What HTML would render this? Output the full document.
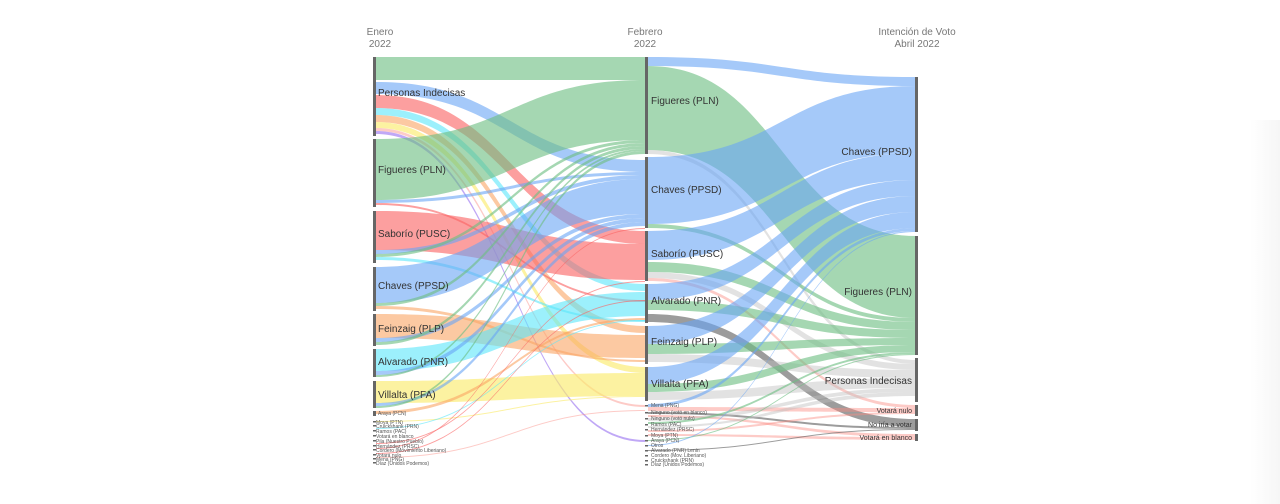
<!DOCTYPE html>
<html><head><meta charset="utf-8"><style>
html,body{margin:0;padding:0;background:#fff;width:1280px;height:504px;overflow:hidden}
svg{display:block;font-family:"Liberation Sans",sans-serif}
</style></head><body>
<svg id="s" width="1280" height="504" xmlns="http://www.w3.org/2000/svg">
<defs><linearGradient id="rg" x1="0" x2="1"><stop offset="0" stop-color="#fff"/><stop offset="1" stop-color="#f6f6f6"/></linearGradient></defs>
<rect x="1250" y="120" width="30" height="384" fill="url(#rg)"/>
<g id="links"></g>
<g id="nodes" fill="#666"></g>
<g font-size="10" fill="#777" text-anchor="middle">
<text x="380" y="35">Enero</text><text x="380" y="47">2022</text>
<text x="645" y="35">Febrero</text><text x="645" y="47">2022</text>
<text x="917" y="35">Intención de Voto</text><text x="917" y="47">Abril 2022</text>
</g>
<g font-size="10" fill="#333">
<text x="378" y="96">Personas Indecisas</text>
<text x="378" y="173">Figueres (PLN)</text>
<text x="378" y="237">Saborío (PUSC)</text>
<text x="378" y="289">Chaves (PPSD)</text>
<text x="378" y="332">Feinzaig (PLP)</text>
<text x="378" y="365">Alvarado (PNR)</text>
<text x="378" y="398">Villalta (PFA)</text>
<text x="651" y="104">Figueres (PLN)</text>
<text x="651" y="193">Chaves (PPSD)</text>
<text x="651" y="257">Saborío (PUSC)</text>
<text x="651" y="304">Alvarado (PNR)</text>
<text x="651" y="345">Feinzaig (PLP)</text>
<text x="651" y="387">Villalta (PFA)</text>
<g text-anchor="end">
<text x="912" y="155">Chaves (PPSD)</text>
<text x="912" y="295">Figueres (PLN)</text>
<text x="912" y="384">Personas Indecisas</text>
</g>
<g text-anchor="end" font-size="7">
<text x="912" y="413">Votará nulo</text>
<text x="912" y="427">No iría a votar</text>
<text x="912" y="440">Votará en blanco</text>
</g>
<g font-size="5" fill="#555">
<text x="378" y="415">Araya (PCN)</text>
<text x="376" y="424">Moya (PTN)</text><text x="376" y="428">Cruickshank (PRN)</text><text x="376" y="433">Ramos (PAC)</text><text x="376" y="438">Votará en blanco</text><text x="376" y="443">Pila (Nuestro Pueblo)</text><text x="376" y="448">Hernández (PRSC)</text><text x="376" y="452">Cordero (Movimiento Liberiano)</text><text x="376" y="457">Votará nulo</text><text x="376" y="461">Mena (PNG)</text><text x="376" y="465">Díaz (Unidos Podemos)</text>
<text x="651" y="407">Mena (PNG)</text><text x="651" y="414">Ninguno (votó en blanco)</text><text x="651" y="420">Ninguno (votó nulo)</text><text x="651" y="426">Ramos (PAC)</text><text x="651" y="431">Hernández (PRSC)</text><text x="651" y="437">Moya (PTN)</text><text x="651" y="442">Araya (PCN)</text><text x="651" y="447">Otros</text><text x="651" y="452">Alvarado (PNR) Lenin</text><text x="651" y="457">Cordero (Mov. Liberiano)</text><text x="651" y="462">Cruickshank (PRN)</text><text x="651" y="466">Díaz (Unidos Podemos)</text>
</g>
</g>
</svg>
<script>
var G='rgba(110,190,130,0.62)',B='rgba(105,165,245,0.6)',R='rgba(250,100,100,0.62)',C='rgba(90,230,250,0.6)',O='rgba(250,165,100,0.6)',Y='rgba(250,235,110,0.65)',GR='rgba(190,190,190,0.45)',DG='rgba(90,90,90,0.6)',P='rgba(250,140,130,0.45)',PU='rgba(150,110,240,0.6)';
var L=[
[376,57,80,645,57,80,G],[376,82,94,645,160,172,B],[376,95,108,645,231,244,R],[376,108,115,645,284,291,C],[376,115,122,645,326,333,O],[376,122,128,645,367,373,Y],[376,128,131,645,405,407,P],[376,131,134,645,440,442,PU],
[376,139,200,645,80,140,G],[376,200,203,645,172,175,B],[376,203,205,645,300,302,R],
[376,211,250,645,244,280,R],[376,250,254,645,175,179,B],[376,254,257,645,140,143,G],[376,257,260,645,320,322,C],
[376,267,303,645,179,214,B],[376,303,306,645,143,146,G],[376,306,309,645,360,362,O],
[376,314,338,645,335,358,O],[376,338,342,645,214,218,B],[376,342,345,645,146,149,G],
[376,349,371,645,292,316,C],[376,371,375,645,218,222,B],[376,375,377,645,149,151,G],
[376,381,403,645,373,396,Y],[376,403,406,645,222,226,B],[376,406,408,645,151,154,G],
[376,411,414,645,318,320,O],[376,421,422,645,396,397,Y],[376,428,429,645,320,321,C],[376,443,444,645,281,282,R],[376,448,449,645,228,229,R],[376,453,454,645,300,301,R],[376,457,458,645,410,411,P],
[648,57,66,916,77,86,B],[648,66,150,916,236,318,G],[648,150,154,916,360,364,GR],
[648,157,224,916,86,153,B],[648,224,228,916,318,322,G],
[648,231,260,916,153,180,B],[648,262,272,916,322,330,G],[648,272,278,916,364,370,GR],[648,278,281,916,405,408,P],
[648,284,300,916,180,196,B],[648,300,310,916,330,338,G],[648,314,322,916,419,427,DG],
[648,326,344,916,196,212,B],[648,344,354,916,338,345,G],[648,354,362,916,370,378,GR],
[648,367,384,916,212,228,B],[648,384,392,916,345,352,G],[648,392,400,916,378,388,GR],
[648,404,407,916,228,231,B],[648,407,411,916,408,412,P],[648,412,414,916,427,429,DG],[648,415,417,916,434,437,P],[648,418,421,916,388,392,GR],[648,422,424,916,352,354,G],[648,426,428,916,392,396,GR],[648,430,432,916,412,414,P],[648,434,436,916,437,440,P],[648,440,441,916,354,355,G],[648,445,446,916,231,232,B],[648,450,451,916,429,430,DG]
];
var h='';
L.forEach(function(l){var x0=l[0],x1=l[3],m=(x0+x1)/2;
h+='<path d="M'+x0+','+l[1]+'C'+m+','+l[1]+' '+m+','+l[4]+' '+x1+','+l[4]+'L'+x1+','+l[5]+'C'+m+','+l[5]+' '+m+','+l[2]+' '+x0+','+l[2]+'Z" fill="'+l[6]+'"/>';});
document.getElementById('links').innerHTML=h;
var N=[[373,57,136],[373,139,207],[373,211,263],[373,267,311],[373,314,346],[373,349,377],[373,381,408],[373,411,416],
[645,57,154],[645,157,228],[645,231,281],[645,284,323],[645,326,364],[645,367,401],
[915,77,232],[915,236,355],[915,358,402],[915,405,416],[915,419,431],[915,434,441]];
var n='';N.forEach(function(a){n+='<rect x="'+a[0]+'" y="'+a[1]+'" width="3" height="'+(a[2]-a[1])+'"/>';});
[421,425,430,435,440,445,449,454,458,462].forEach(function(y){n+='<rect x="373" y="'+y+'" width="3" height="1.5"/>';});
[405,412,418,424,429,435,440,445,450,455,460,464].forEach(function(y){n+='<rect x="645" y="'+y+'" width="3" height="1.5"/>';});
document.getElementById('nodes').innerHTML=n;
</script>
</body></html>
